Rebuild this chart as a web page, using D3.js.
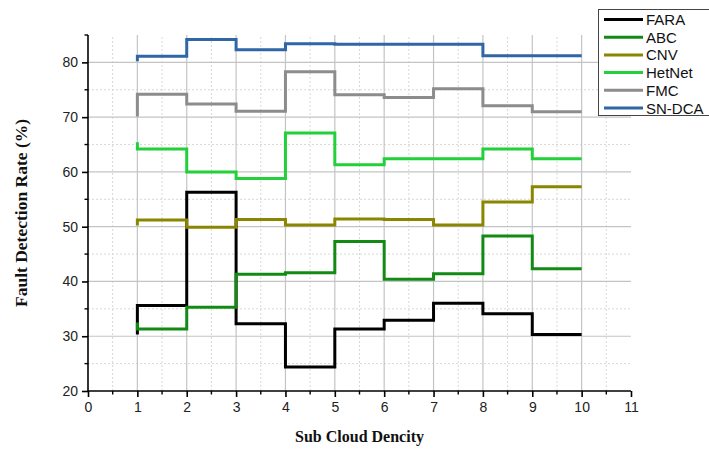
<!DOCTYPE html>
<html>
<head>
<meta charset="utf-8">
<script src="https://cdn.jsdelivr.net/npm/d3@7/dist/d3.min.js"></script>
<style>
  html, body { margin: 0; padding: 0; background: #fff; }
  svg { display: block; }
</style>
</head>
<body>
<svg id="chart" width="709" height="450"></svg>
<script>
// Sub-cloud density positions (x values of each step point)
const densities = [1, 2, 3, 4, 5, 6, 7, 8, 9, 10];

// Fault detection rate (%) for each method
const fara   = [30.3, 35.6, 56.3, 32.3, 24.4, 31.3, 32.9, 36.0, 34.1, 30.3];
const abc    = [32.5, 31.3, 35.3, 41.3, 41.6, 47.3, 40.4, 41.4, 48.3, 42.3];
const cnv    = [50.2, 51.2, 49.9, 51.3, 50.3, 51.4, 51.3, 50.3, 54.5, 57.3];
const hetnet = [65.4, 64.2, 60.0, 58.8, 67.1, 61.3, 62.4, 62.4, 64.2, 62.4];
const fmc    = [70.1, 74.2, 72.4, 71.1, 78.3, 74.1, 73.6, 75.2, 72.1, 71.0];
const sndca  = [80.2, 81.1, 84.2, 82.3, 83.4, 83.3, 83.3, 83.3, 81.2, 81.2];

const seriesNames  = ["FARA", "ABC", "CNV", "HetNet", "FMC", "SN-DCA"];
const seriesValues = [fara, abc, cnv, hetnet, fmc, sndca];
const seriesColors = ["#000000", "#138a13", "#8a8600", "#22d03a", "#8c8c8c", "#2e66a6"];

const xTicks = [0, 1, 2, 3, 4, 5, 6, 7, 8, 9, 10, 11];
const yTicks = [20, 30, 40, 50, 60, 70, 80];

const svg = d3.select("#chart");
const margin = { left: 88, right: 78, top: 35, bottom: 59 };
const W = 709, H = 450;

const x = d3.scaleLinear().domain([0, 11]).range([margin.left, W - margin.right]);
const y = d3.scaleLinear().domain([20, 85]).range([H - margin.bottom, margin.top]);

const x0 = x(0), x1 = x(11), yb = y(20), yt = y(85);

// Minor grid (dotted)
const minorX = d3.range(0.5, 11, 1);
const minorY = d3.range(25, 86, 10);
const grid = svg.append("g");
grid.selectAll("line.mx").data(minorX).join("line")
  .attr("x1", d => x(d)).attr("x2", d => x(d))
  .attr("y1", yb).attr("y2", yt)
  .attr("stroke", "#d8d8d8").attr("stroke-width", 1).attr("stroke-dasharray", "2,2");
grid.selectAll("line.my").data(minorY.filter(v => v < 85)).join("line")
  .attr("x1", x0).attr("x2", x1)
  .attr("y1", d => y(d)).attr("y2", d => y(d))
  .attr("stroke", "#d8d8d8").attr("stroke-width", 1).attr("stroke-dasharray", "2,2");

// Major grid (solid)
grid.selectAll("line.gx").data(xTicks.filter(v => v > 0 && v < 11)).join("line")
  .attr("x1", d => x(d)).attr("x2", d => x(d))
  .attr("y1", yb).attr("y2", yt)
  .attr("stroke", "#c4c4c4").attr("stroke-width", 1.2);
grid.selectAll("line.gy").data(yTicks.filter(v => v > 20)).join("line")
  .attr("x1", x0).attr("x2", x1)
  .attr("y1", d => y(d)).attr("y2", d => y(d))
  .attr("stroke", "#c4c4c4").attr("stroke-width", 1.2);

// Step lines
const line = d3.line()
  .x((d, i) => x(densities[i]))
  .y(d => y(d))
  .curve(d3.curveStepBefore);

const lines = svg.append("g");
seriesValues.forEach((vals, k) => {
  lines.append("path")
    .datum(vals)
    .attr("d", line)
    .attr("fill", "none")
    .attr("stroke", seriesColors[k])
    .attr("stroke-width", 3)
    .attr("stroke-linejoin", "miter");
});

// Axes
const xAxis = d3.axisBottom(x).tickValues(xTicks).tickSize(6).tickPadding(5).tickFormat(d3.format("d"));
const yAxis = d3.axisLeft(y).tickValues(yTicks).tickSize(6).tickPadding(4).tickFormat(d3.format("d"));

const gx = svg.append("g").attr("transform", `translate(0,${yb})`).call(xAxis);
const gy = svg.append("g").attr("transform", `translate(${x0},0)`).call(yAxis);

[gx, gy].forEach(g => {
  g.select(".domain").attr("stroke", "#000").attr("stroke-width", 1.6);
  g.selectAll(".tick line").attr("stroke", "#000").attr("stroke-width", 1.6);
  g.selectAll(".tick text")
    .attr("fill", "#222")
    .style("font-family", "'Liberation Sans', Arial, sans-serif")
    .style("font-size", "14px");
});
// remove outer end caps of the domain
gx.select(".domain").attr("d", `M${x0},0H${x1}`);
gy.select(".domain").attr("d", `M0,${yb}V${yt}`);

// Minor ticks
svg.append("g").selectAll("line").data(minorX).join("line")
  .attr("x1", d => x(d)).attr("x2", d => x(d))
  .attr("y1", yb).attr("y2", yb + 3.5)
  .attr("stroke", "#000").attr("stroke-width", 1.4);
svg.append("g").selectAll("line").data(minorY).join("line")
  .attr("x1", x0 - 3.5).attr("x2", x0)
  .attr("y1", d => y(d)).attr("y2", d => y(d))
  .attr("stroke", "#000").attr("stroke-width", 1.4);

// Axis titles
svg.append("text")
  .attr("x", (x0 + x1) / 2).attr("y", 442)
  .attr("text-anchor", "middle")
  .style("font-family", "'Liberation Serif', 'Times New Roman', serif")
  .style("font-weight", "bold").style("font-size", "16px")
  .attr("fill", "#111")
  .text("Sub Cloud Dencity");

svg.append("text")
  .attr("transform", `translate(27,${(yb + yt) / 2}) rotate(-90)`)
  .attr("text-anchor", "middle")
  .style("font-family", "'Liberation Serif', 'Times New Roman', serif")
  .style("font-weight", "bold").style("font-size", "17.5px")
  .attr("fill", "#111")
  .text("Fault Detection Rate (%)");

// Legend
const legend = svg.append("g");
legend.append("rect")
  .attr("x", 598.5).attr("y", 9.5).attr("width", 120).attr("height", 106)
  .attr("fill", "#fff").attr("stroke", "#444").attr("stroke-width", 1);
seriesNames.forEach((name, i) => {
  const ly = 19.5 + i * 17.7;
  legend.append("line")
    .attr("x1", 604).attr("x2", 643).attr("y1", ly).attr("y2", ly)
    .attr("stroke", seriesColors[i]).attr("stroke-width", 3);
  legend.append("text")
    .attr("x", 646).attr("y", ly + 5.5)
    .style("font-family", "'Liberation Sans', Arial, sans-serif")
    .style("font-size", "15px")
    .attr("fill", "#111")
    .text(name);
});
</script>
</body>
</html>
